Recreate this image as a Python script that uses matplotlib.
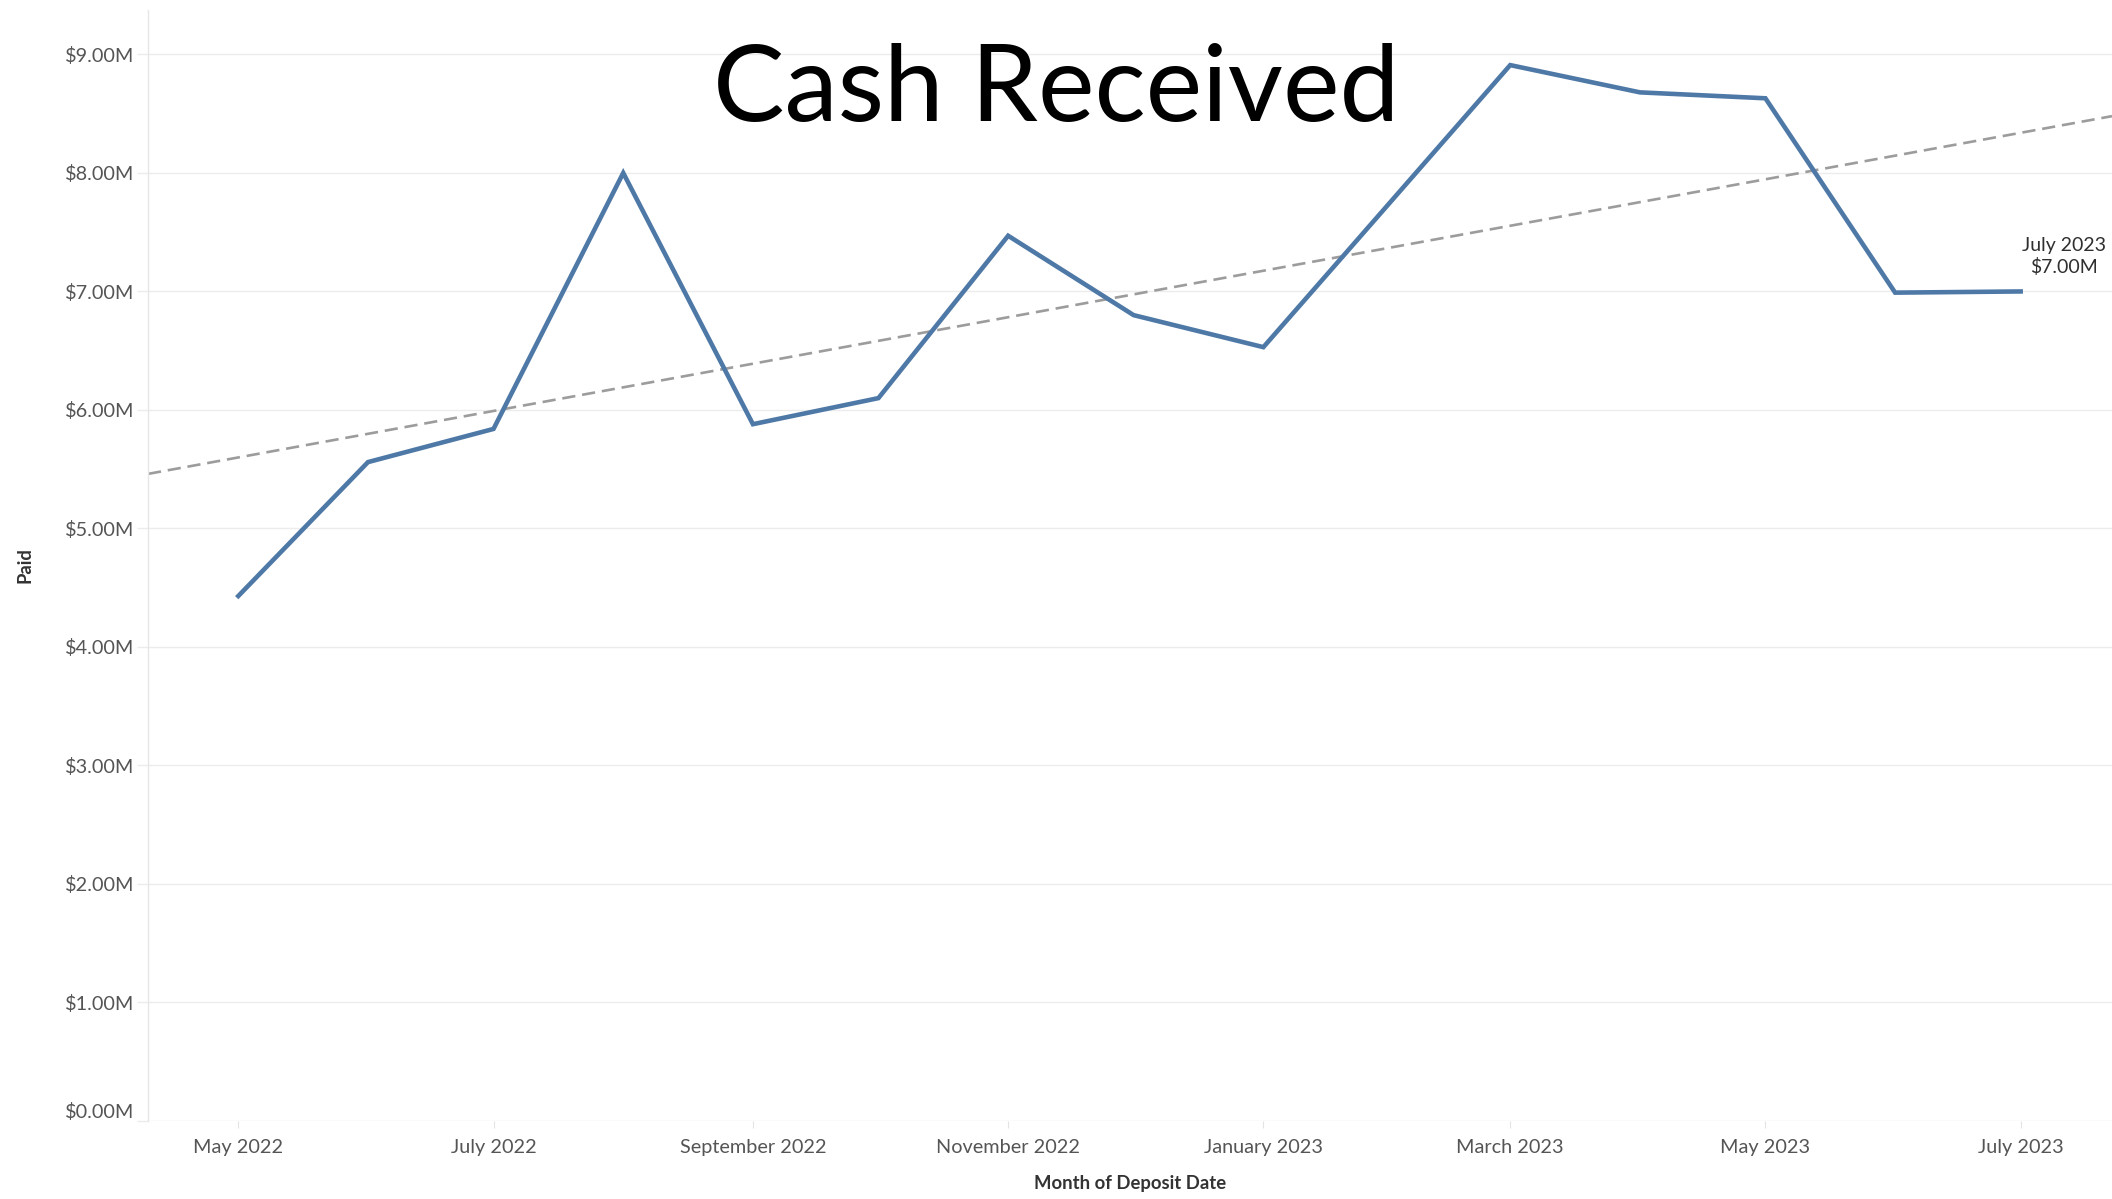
import numpy as np
import datetime as dt
import matplotlib
matplotlib.use("Agg")
import matplotlib.pyplot as plt
import matplotlib.dates as mdates
from matplotlib.ticker import FuncFormatter, FixedLocator

# ---------------- data ----------------
months = ["May 2022", "June 2022", "July 2022", "August 2022", "September 2022",
          "October 2022", "November 2022", "December 2022", "January 2023",
          "February 2023", "March 2023", "April 2023", "May 2023", "June 2023",
          "July 2023"]
paid_musd = [4.43, 5.56, 5.84, 8.00, 5.88, 6.10, 7.47, 6.80, 6.53, 7.78,
             8.91, 8.68, 8.63, 6.99, 7.00]
y_ticks = [0, 1, 2, 3, 4, 5, 6, 7, 8, 9]
title = "Cash Received"
x_title = "Month of Deposit Date"
y_title = "Paid"

# ---------------- figure ----------------
W, H = 2112, 1199
fig = plt.figure(figsize=(W / 100, H / 100), dpi=100)
fig.patch.set_facecolor("white")

left = 148 / W
bottom = 1 - 1121 / H
top = 1 - 10 / H
ax = fig.add_axes([left, bottom, 1 - left, top - bottom])

font = ["Lato", "DejaVu Sans"]
tick_color = "#555555"
grid_color = "#ececec"

dates = [dt.datetime.strptime(m, "%B %Y") for m in months]
x = mdates.date2num(dates)
y = np.array(paid_musd)

# axis range (continuous date axis)
xlim = (mdates.date2num(dt.datetime(2022, 4, 9, 10)),
        mdates.date2num(dt.datetime(2023, 7, 22, 20)))

# trend line (linear regression across the whole axis)
coef = np.polyfit(x - x[0], y, 1)
tx = np.array(xlim)
ax.plot(tx, np.polyval(coef, tx - x[0]), color="#9c9c9c", lw=1.9,
        dashes=(5, 2.6), zorder=2, solid_capstyle="butt")

# main line
ax.plot(x, y, color="#4e79a7", lw=3.3, zorder=3, solid_joinstyle="miter")

# end label
ax.annotate(f"{months[-1]}\n${y[-1]:.2f}M", xy=(x[-1], y[-1]),
            xytext=(31, 25), textcoords="offset points",
            ha="center", va="center", fontsize=14, color="#2f2f2f",
            family=font, linespacing=1.3, annotation_clip=False)

ax.set_xlim(*xlim)
ax.set_ylim(0, 9.375)

# grid and spines
ax.yaxis.set_major_locator(FixedLocator(y_ticks))
ax.yaxis.set_major_formatter(FuncFormatter(lambda v, p: f"${v:.2f}M"))
ax.grid(axis="y", color=grid_color, lw=1.0, zorder=0)
ax.set_axisbelow(True)
for s in ["top", "right", "bottom"]:
    ax.spines[s].set_visible(False)
ax.spines["left"].set_color("#e6e6e6")
ax.spines["left"].set_linewidth(1.0)

ax.set_xticks(x[::2])
ax.set_xticklabels(months[::2])
ax.tick_params(axis="x", length=5, width=0.8, color="#e4e4e4", pad=8,
               labelsize=14.3, labelcolor=tick_color)
ax.tick_params(axis="y", length=8, width=1.0, color=grid_color, pad=2,
               labelsize=14.3, labelcolor=tick_color)
for lbl in ax.get_xticklabels() + ax.get_yticklabels():
    lbl.set_family(font)
ax.get_yticklabels()[0].set_va("bottom")

ax.set_xlabel(x_title, fontsize=13.3, fontweight="bold", color="#333333", family=font)
ax.xaxis.set_label_coords(0.5, -(1183 - 1121) / (1121 - 10))
ax.xaxis.label.set_va("center")
ax.set_ylabel(y_title, fontsize=13.3, fontweight="bold", color="#333333", family=font)
ax.yaxis.set_label_coords((25 - 148) / (W - 148), 0.5)
ax.yaxis.label.set_va("center")

fig.text(0.5, 1 - 121 / H, title, ha="center", va="baseline",
         fontsize=77, color="black", family=font)

fig.savefig("out.png", dpi=100, facecolor="white")
